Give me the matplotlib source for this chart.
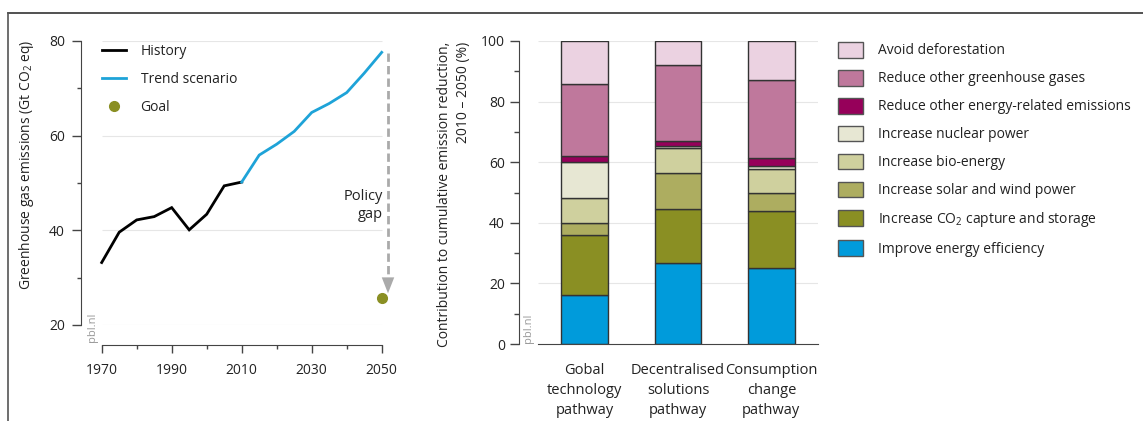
import matplotlib
matplotlib.use("Agg")
import matplotlib.pyplot as plt
from matplotlib.lines import Line2D
from matplotlib.patches import Patch
import numpy as np

plt.rcParams.update({
    "font.family": ["Open Sans", "DejaVu Sans"],
    "font.size": 10,
    "mathtext.default": "regular",
    "text.color": "#222222",
    "axes.edgecolor": "#444444",
    "xtick.color": "#444444",
    "ytick.color": "#444444",
    "xtick.labelcolor": "#222222",
    "ytick.labelcolor": "#222222",
})

# ── Data: left panel ──────────────────────────────────────────────────────────
hist_years = [1970, 1975, 1980, 1985, 1990, 1995, 2000, 2005, 2010]
hist_vals = [33.2, 39.6, 42.2, 42.9, 44.8, 40.1, 43.4, 49.4, 50.2]
trend_years = [2010, 2015, 2020, 2025, 2030, 2035, 2040, 2045, 2050]
trend_vals = [50.2, 55.9, 58.2, 60.9, 64.9, 66.8, 69.1, 73.2, 77.6]
goal_year = 2050
goal_val = 25.8

# ── Data: right panel ─────────────────────────────────────────────────────────
pathways = ["Gobal\ntechnology\npathway",
            "Decentralised\nsolutions\npathway",
            "Consumption\nchange\npathway"]
categories = ["Improve energy efficiency",
              "Increase CO$_2$ capture and storage",
              "Increase solar and wind power",
              "Increase bio-energy",
              "Increase nuclear power",
              "Reduce other energy-related emissions",
              "Reduce other greenhouse gases",
              "Avoid deforestation"]
efficiency = [16.1, 26.7, 25.1]
ccs = [19.8, 17.7, 18.8]
solar_wind = [4.1, 12.1, 5.9]
bio = [8.1, 8.3, 8.0]
nuclear = [12.0, 0.6, 1.1]
other_energy = [1.8, 1.6, 2.5]
other_ghg = [24.0, 25.0, 25.6]
deforestation = [14.1, 8.0, 13.0]
shares = [efficiency, ccs, solar_wind, bio, nuclear, other_energy, other_ghg, deforestation]
colors = ["#009bdb", "#8a8f23", "#adad60", "#cfd09e", "#e7e7d3",
          "#96005a", "#bf789c", "#ebd2e1"]

W, H = 1143, 421
fig = plt.figure(figsize=(W / 100, H / 100), dpi=100)


def fx(px):
    return px / W


def fy(py):
    return 1 - py / H


# outer frame (top and left)
fig.add_artist(Line2D([fx(8), 1], [fy(13), fy(13)], color="#333333", lw=1.2))
fig.add_artist(Line2D([fx(8), fx(8)], [fy(13), 0], color="#555555", lw=1.2))

GRID = "#e6e6e6"

# ══════════════════════════════════════════════════════════════════════════════
# Left panel: emissions
# ══════════════════════════════════════════════════════════════════════════════
x0, x1 = 1967, 2055
ax1 = fig.add_axes([fx(101.7 - 3 * 3.5), fy(325), fx(88 * 3.5), (325 - 41) / H])
ax1.set_xlim(x0, x1)
ax1.set_ylim(20, 80)
for s in ["top", "right"]:
    ax1.spines[s].set_visible(False)
ax1.spines["left"].set_position(("outward", 7))
ax1.spines["bottom"].set_position(("outward", 14.5))
ax1.spines["bottom"].set_bounds(1970, 2050)
ax1.spines["left"].set_bounds(20, 80)

ax1.hlines([20, 40, 60, 80], 1970, 2050, color=GRID, lw=0.8, zorder=0)
ax1.plot(hist_years, hist_vals, color="black", lw=2, solid_joinstyle="miter")
ax1.plot(trend_years, trend_vals, color="#1ea3d8", lw=2, solid_joinstyle="miter")
ax1.plot([goal_year], [goal_val], "o", color="#8a8f23", ms=7, clip_on=False, zorder=5)

# policy gap arrow
ax1.plot([2051.8, 2051.8], [77.4, 29.8], color="#aaaaaa", lw=2, ls=(0, (3, 1.5)),
         clip_on=False)
ax1.annotate("", xy=(2051.8, 26.1), xytext=(2051.8, 30.2),
             arrowprops=dict(arrowstyle="-|>,head_width=0.45,head_length=1.15",
                             color="#aaaaaa", lw=0), annotation_clip=False)
ax1.text(2050.4, 45.3, "Policy\ngap", ha="right", va="center", fontsize=10.5,
         linespacing=1.3)

ax1.set_yticks([20, 40, 60, 80])
ax1.set_yticks([30, 50, 70], minor=True)
ax1.set_xticks([1970, 1990, 2010, 2030, 2050])
ax1.set_xticks([1980, 2000, 2020, 2040], minor=True)
ax1.tick_params(axis="y", which="major", length=6.5, width=1, pad=5.5, labelsize=10)
ax1.tick_params(axis="y", which="minor", length=3, width=1)
ax1.tick_params(axis="x", which="major", length=6, width=1, pad=7, labelsize=10)
ax1.tick_params(axis="x", which="minor", length=3, width=1)

ax1.text(1967.4, 16.4, "pbl.nl", rotation=90, ha="center", va="bottom",
         fontsize=8, color="#999999", clip_on=False)

leg_handles = [Line2D([], [], color="black", lw=2),
               Line2D([], [], color="#1ea3d8", lw=2),
               Line2D([], [], ls="", marker="o", color="#8a8f23", ms=7)]
ax1.legend(leg_handles, ["History", "Trend scenario", "Goal"],
           loc="upper left", bbox_to_anchor=(fx(101.7 - 91.2) / fx(308), 0.99),
           frameon=False, fontsize=10, handlelength=1.75, handletextpad=1.05,
           labelspacing=0.93, borderpad=0, borderaxespad=0)

fig.text(fx(27), fy(165), "Greenhouse gas emissions (Gt CO$_2$ eq)",
         rotation=90, ha="center", va="center", fontsize=10)

# ══════════════════════════════════════════════════════════════════════════════
# Right panel: stacked bars
# ══════════════════════════════════════════════════════════════════════════════
ax2 = fig.add_axes([fx(538), fy(344), fx(280), (344 - 41) / H])
pos = np.arange(len(pathways))
ax2.set_xlim(-0.5, 2.5)
ax2.set_ylim(0, 100)
for s in ["top", "right"]:
    ax2.spines[s].set_visible(False)
ax2.spines["left"].set_position(("outward", 13.7))
ax2.hlines([20, 40, 60, 80, 100], -0.5, 2.5, color=GRID, lw=0.8, zorder=0)

bottom = np.zeros(len(pathways))
for vals, col, lab in zip(shares, colors, categories):
    ax2.bar(pos, vals, width=0.5, bottom=bottom, color=col, edgecolor="#333333",
            linewidth=1, label=lab, zorder=2)
    bottom += np.array(vals)

ax2.set_yticks([0, 20, 40, 60, 80, 100])
ax2.set_yticks([10, 30, 50, 70, 90], minor=True)
ax2.set_xticks(pos)
ax2.set_xticklabels(pathways, linespacing=1.42)
ax2.tick_params(axis="y", which="major", length=6.5, width=1, pad=3.5, labelsize=10)
ax2.tick_params(axis="y", which="minor", length=3.5, width=1)
ax2.tick_params(axis="x", length=0, pad=14, labelsize=10.5)

ax2.text(-0.6, 0.3, "pbl.nl", rotation=90, ha="center", va="bottom",
         fontsize=8, color="#999999", clip_on=False)

fig.text(fx(454), fy(42),
         "Contribution to cumulative emission reduction,\n2010 \u2013 2050 (%)",
         rotation=90, ha="center", va="top", multialignment="right",
         fontsize=10, linespacing=1.45)

handles = [Patch(facecolor=c, edgecolor="#555555", lw=1) for c in colors][::-1]
fig.legend(handles, categories[::-1], loc="upper left",
           bbox_to_anchor=(fx(838), fy(42)), frameon=False, fontsize=10,
           handlelength=1.8, handleheight=1.35, handletextpad=1.1,
           labelspacing=0.83, borderpad=0, borderaxespad=0)

fig.savefig("out.png", dpi=100)
